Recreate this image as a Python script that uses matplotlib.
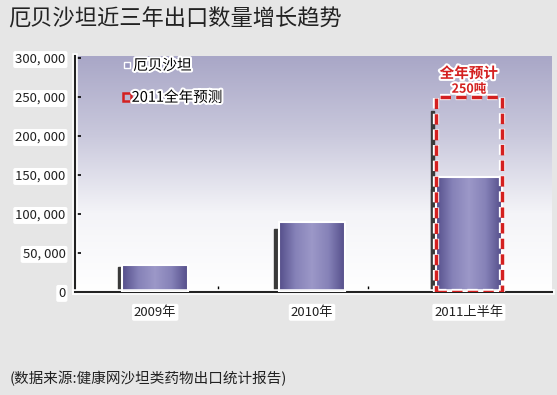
import numpy as np
import matplotlib.pyplot as plt
import matplotlib.patheffects as pe
from matplotlib.colors import LinearSegmentedColormap
from matplotlib.patches import Rectangle

plt.rcParams['font.family'] = ['Noto Sans CJK SC', 'DejaVu Sans']

categories = ['2009年', '2010年', '2011上半年']
values = [35000, 90000, 147000]
forecast = 250000
yticks = [0, 50000, 100000, 150000, 200000, 250000, 300000]
ytick_labels = ['0', '50, 000', '100, 000', '150, 000', '200, 000', '250, 000', '300, 000']

fig = plt.figure(figsize=(5.57, 3.95), dpi=100)
fig.patch.set_facecolor('#e6e6e6')
ax = fig.add_axes([0.135, 0.261, 0.856, 0.597])
ax.set_xlim(-0.51, 2.53)
ax.set_ylim(0, 302500)

# background gradient
bg = LinearSegmentedColormap.from_list('bg', ['#ffffff', '#f4f4f8', '#c9c8dc', '#a9a7c7'])
grad = np.linspace(0, 1, 256).reshape(-1, 1)
ax.imshow(grad, cmap=bg, origin='lower', extent=[-0.51, 2.53, 0, 302500],
          aspect='auto', zorder=0)

# bars with cylinder shading
w = 0.42
barcm = LinearSegmentedColormap.from_list('bar', ['#544e8a', '#8682b8', '#9c98c8', '#8682b8', '#544e8a'])
hgrad = np.linspace(0, 1, 256).reshape(1, -1)
x = np.arange(len(categories))
for xi, v in zip(x, values):
    ax.add_patch(Rectangle((xi - w / 2 - 0.03, 0), 0.025, v * 0.9, color='#3a3a3a', zorder=1))
    ax.imshow(hgrad, cmap=barcm, extent=[xi - w / 2, xi + w / 2, 0, v],
              aspect='auto', zorder=2)
    ax.add_patch(Rectangle((xi - w / 2, 0), w, v, fill=False, ec='white', lw=1.5, zorder=3))

# forecast dashed box
fb = Rectangle((x[2] - w / 2, 0), w, forecast, fill=False, ec='#d42020', lw=2.5,
               ls=(0, (3, 1.5)), zorder=4,
               path_effects=[pe.withStroke(linewidth=4.5, foreground='white')])
ax.add_patch(fb)
ax.add_patch(Rectangle((x[2] - w / 2 - 0.03, 0), 0.02, forecast * 0.93, color='#3a3a3a', zorder=1))
ax.text(x[2], forecast + 31000, '全年预计', color='#d42020', fontsize=10.5, fontweight='bold',
        ha='center', va='center', zorder=5,
        path_effects=[pe.withStroke(linewidth=3, foreground='white')])
ax.text(x[2], forecast + 10000, '250吨', color='#d42020', fontsize=9, fontweight='bold',
        ha='center', va='center', zorder=5,
        path_effects=[pe.withStroke(linewidth=3, foreground='white')])

# legend
ax.plot([-0.18], [291000], 's', ms=4, mfc='#9a98c0', mec='white', zorder=5)
ax.text(-0.14, 290000, '厄贝沙坦', fontsize=10.5, va='center', zorder=5,
        path_effects=[pe.withStroke(linewidth=3, foreground='white')])
ax.plot([-0.18], [250000], 's', ms=6, mfc='none', mec='#d42020', mew=1.8, zorder=5)
ax.text(-0.15, 249000, '2011全年预测', fontsize=10.5, va='center', zorder=5,
        path_effects=[pe.withStroke(linewidth=3, foreground='white')])

# axes styling
for s in ['top', 'right']:
    ax.spines[s].set_visible(False)
for s in ['left', 'bottom']:
    ax.spines[s].set_linewidth(1.5)
    ax.spines[s].set_color('#222222')
    ax.spines[s].set_path_effects([pe.withStroke(linewidth=4, foreground='white')])
ax.set_yticks(yticks)
ax.set_yticklabels(ytick_labels)
ax.set_xticks(x)
ax.set_xticklabels(categories)
ax.set_xticks([0.4, 1.36], minor=True)
ax.tick_params(axis='y', direction='in', length=4, width=1.2, pad=7, labelsize=9.5)
ax.tick_params(axis='x', which='major', length=0, pad=10, labelsize=9.5)
ax.tick_params(axis='x', which='minor', direction='in', length=4, width=1)
for lab in ax.get_yticklabels() + ax.get_xticklabels():
    lab.set_bbox(dict(boxstyle='round,pad=0.15', fc='white', ec='none'))
    lab.set_color('#222222')

fig.text(0.014, 0.952, '厄贝沙坦近三年出口数量增长趋势', fontsize=16, va='center', color='#222222')
fig.text(0.018, 0.043, '(数据来源:健康网沙坦类药物出口统计报告)', fontsize=10.5, va='center', color='#222222')

fig.savefig('out.png', dpi=100, facecolor=fig.get_facecolor())
